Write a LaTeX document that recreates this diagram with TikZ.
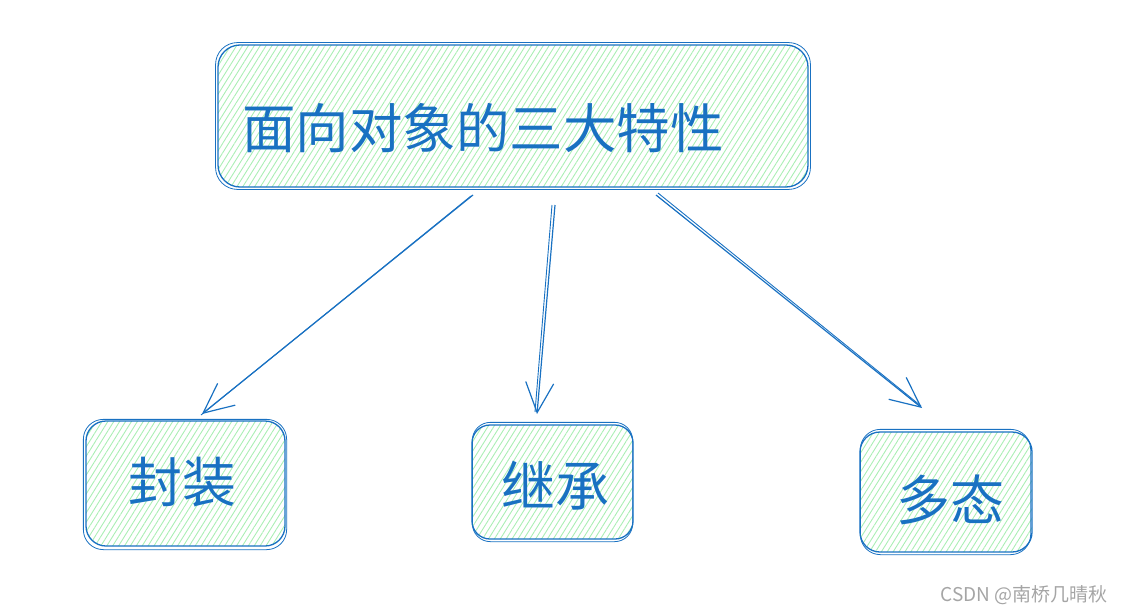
\documentclass[tikz,border=0pt]{standalone}
\usepackage{fontspec}
\newfontfamily\cjk{Noto Sans CJK SC}
\usetikzlibrary{patterns.meta,arrows.meta}
\definecolor{sk}{RGB}{25,113,194}
\definecolor{hatch}{RGB}{170,238,180}
\definecolor{wm}{RGB}{165,165,165}
\begin{document}
\begin{tikzpicture}[x=1pt,y=-1pt,
  box/.style={draw=sk, line width=1.3pt, rounded corners=22pt,
    pattern={Lines[angle=58,distance=5pt,line width=0.9pt]}, pattern color=hatch,
    inner sep=0pt},
  outline2/.style={draw=sk, line width=0.8pt, rounded corners=22pt},
  lbl/.style={text=sk, font=\cjk\fontsize{54}{54}\selectfont, inner sep=0pt},
  arr/.style={draw=sk, line width=1.2pt, -{Straight Barb[length=30pt,width=28pt]}},
  arr2/.style={draw=sk, line width=0.9pt},
  wmark/.style={text=wm, font=\cjk\fontsize{19}{19}\selectfont, inner sep=0pt}]
\useasboundingbox (0,0) rectangle (1124,613);

% boxes
\node[box, minimum width=590pt, minimum height=142pt] (top) at (513,116) {};
\node[box, minimum width=199pt, minimum height=125pt, rounded corners=20pt] (fz) at (185.5,483.5) {};
\node[box, minimum width=161pt, minimum height=114pt, rounded corners=18pt] (jc) at (552.5,482) {};
\node[box, minimum width=172pt, minimum height=120pt, rounded corners=20pt] (dt) at (946,492) {};

% second sketch strokes
\draw[outline2] ([shift={(-2,-2)}]top.north west) rectangle ([shift={(2,2)}]top.south east);
\draw[outline2, rounded corners=20pt] ([shift={(-2,-1)}]fz.north west) rectangle ([shift={(1,3)}]fz.south east);
\draw[outline2, rounded corners=18pt] ([shift={(1,-2)}]jc.north west) rectangle ([shift={(-1,2)}]jc.south east);
\draw[outline2, rounded corners=20pt] ([shift={(1,-2)}]dt.north west) rectangle ([shift={(-2,2)}]dt.south east);

% labels
\node[lbl, anchor=west, font=\cjk\fontsize{53.5}{53.5}\selectfont] (ttop) at (242,128) {面向对象的三大特性};
\node[lbl] (tfz) at (182,482) {封装};
\node[lbl] (tjc) at (555,486) {继承};
\node[lbl] (tdt) at (950,500) {多态};

% arrow end points
\coordinate (s1) at (473,195);
\coordinate (e1) at (202,414);
\coordinate (s2) at (555,205);
\coordinate (e2) at (537,414);
\coordinate (s3) at (656,195);
\coordinate (e3) at (922,408);

\draw[arr] (s1) -- (e1);
\draw[arr2] ([shift={(-2,1)}]s1) -- ([shift={(-1,1)}]e1);
\draw[arr] (s2) -- (e2);
\draw[arr2] ([shift={(-3,0)}]s2) -- ([shift={(-2,-2)}]e2);
\draw[arr] (s3) -- (e3);
\draw[arr2] ([shift={(2,-2)}]s3) -- ([shift={(-1,-2)}]e3);

% watermark
\node[wmark, anchor=east] (wm) at (1108,595) {CSDN @南桥几晴秋};
\end{tikzpicture}
\end{document}
